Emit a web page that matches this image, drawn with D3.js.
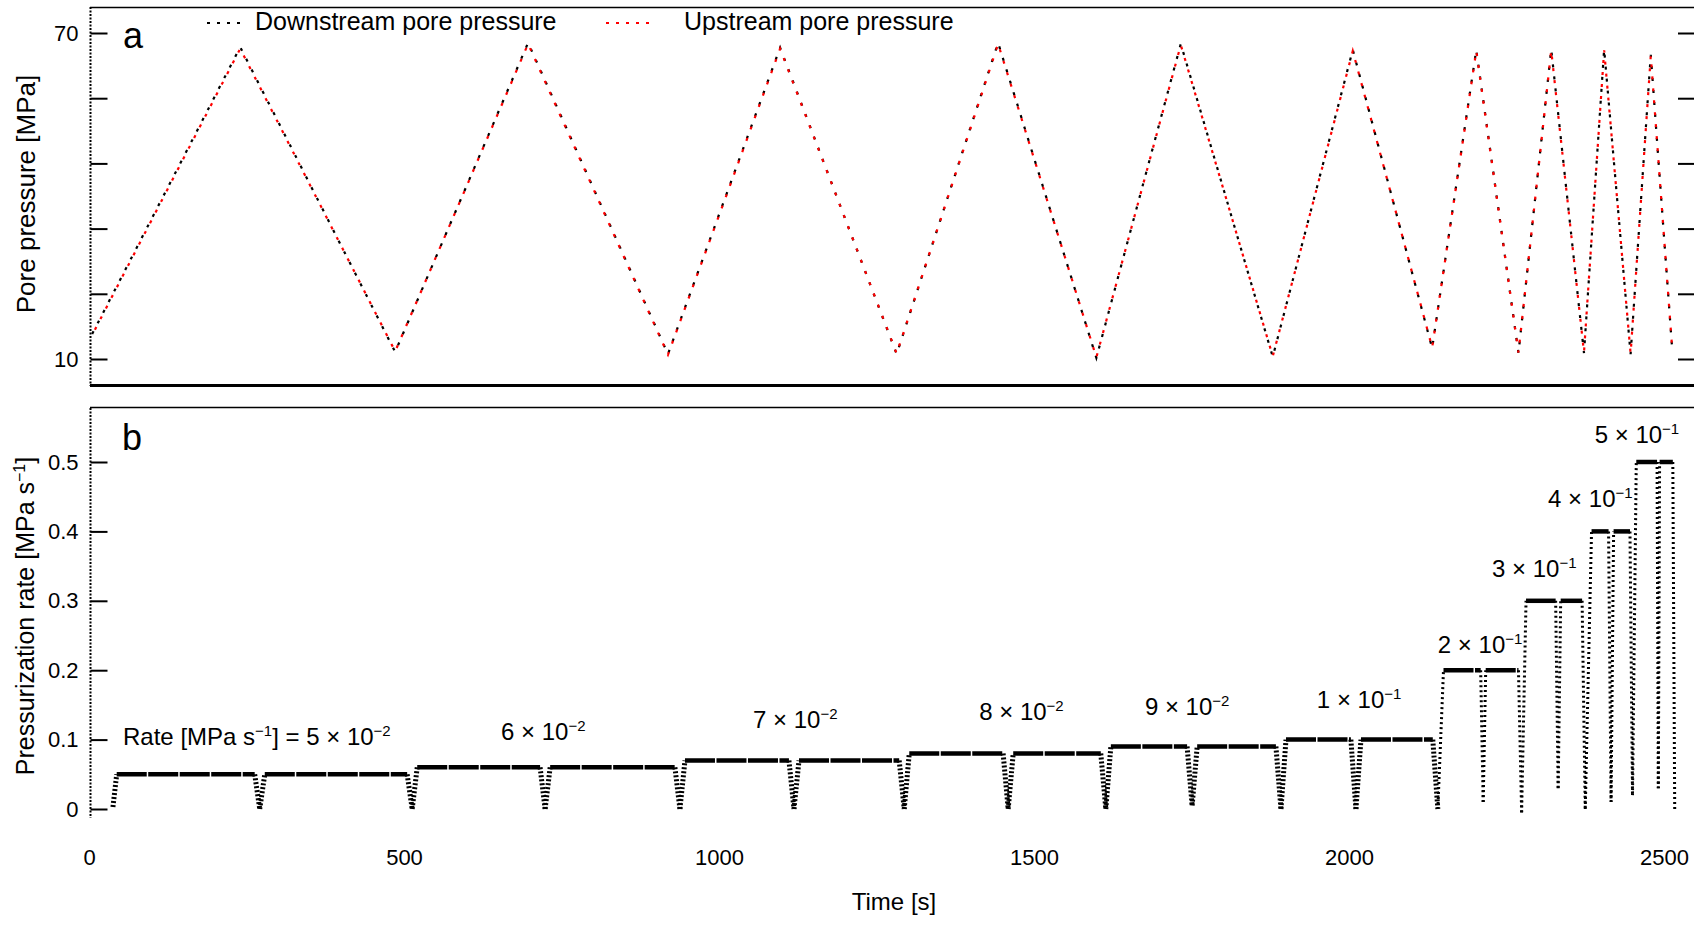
<!DOCTYPE html>
<html><head><meta charset="utf-8">
<script src="https://cdn.jsdelivr.net/npm/d3@7"></script>
<style>
html,body{margin:0;padding:0;background:#fff;}
svg{display:block;}
text{font-family:"Liberation Sans", Arial, sans-serif;fill:#000;}
</style></head><body>
<svg id="chart" width="1694" height="928"></svg>
<script>
// ---------------- data ----------------
const pressureTime = [5, 240, 486, 697, 919, 1097, 1282, 1443, 1599, 1733, 1879, 2006, 2132, 2202, 2269, 2321, 2373, 2405, 2447, 2479, 2513];
const downstreamPressure = [14.6, 67.4, 11.3, 68.2, 10.9, 67.3, 10.9, 68.2, 10.2, 68.0, 10.4, 66.9, 12.0, 66.9, 11.1, 67.0, 11.1, 67.0, 10.9, 66.0, 11.8];
const upstreamPressure   = [14.4, 67.1, 11.4, 68.0, 10.8, 67.1, 11.0, 68.0, 10.3, 67.8, 10.5, 66.7, 12.1, 66.7, 11.2, 66.8, 11.2, 66.8, 11.0, 65.8, 11.9];

const rateTime = [38, 44, 263, 271, 279, 505, 513,
  521, 716, 724, 732, 930, 938,
  946, 1111, 1119, 1127, 1286, 1294,
  1302, 1451, 1459, 1467, 1606, 1614,
  1622, 1743, 1751, 1759, 1884, 1892,
  1900, 2003, 2011, 2019, 2133, 2141,
  2150, 2209, 2213, 2217, 2269, 2274,
  2281, 2328, 2332, 2336, 2370, 2375,
  2385, 2412, 2416, 2420, 2446, 2450,
  2456, 2489, 2491, 2493, 2514, 2517];
const rateValue = [0.003, 0.05, 0.05, 0.0, 0.05, 0.05, 0.0,
  0.06, 0.06, 0.0, 0.06, 0.06, 0.0,
  0.07, 0.07, 0.0, 0.07, 0.07, 0.0,
  0.08, 0.08, 0.0, 0.08, 0.08, 0.0,
  0.09, 0.09, 0.005, 0.09, 0.09, 0.0,
  0.10, 0.10, 0.0, 0.10, 0.10, 0.0,
  0.20, 0.20, 0.01, 0.20, 0.20, -0.005,
  0.30, 0.30, 0.03, 0.30, 0.30, 0.0,
  0.40, 0.40, 0.01, 0.40, 0.40, 0.02,
  0.50, 0.50, 0.03, 0.50, 0.50, 0.0];

const rateMantissa = ["5", "6", "7", "8", "9", "1", "2", "3", "4", "5"];
const rateExponent = ["−2", "−2", "−2", "−2", "−2", "−1", "−1", "−1", "−1", "−1"];

const pressureTicks = [70, 58, 46, 34, 22, 10];
const pressureTickLabels = ["70", "", "", "", "", "10"];
const rateTicks = [0, 0.1, 0.2, 0.3, 0.4, 0.5];
const rateTickLabels = ["0", "0.1", "0.2", "0.3", "0.4", "0.5"];
const timeTicks = [0, 500, 1000, 1500, 2000, 2500];

// ---------------- layout ----------------
const annotationAt = [[54,0.092],[654,0.099],[1054,0.117],[1413,0.128],[1676,0.135],[1949,0.146],[2141,0.225],[2227,0.334],[2316,0.435],[2390,0.527]];

const svg = d3.select('#chart');
const x = d3.scaleLinear().domain([0, 2500]).range([89, 1664]);
const yA = d3.scaleLinear().domain([10, 70]).range([359, 33]);
const yB = d3.scaleLinear().domain([0, 0.5]).range([809, 462]);

const axisX = 90.5, rightEdge = 1694;

// frame lines
svg.append('line').attr('x1', 90).attr('x2', rightEdge).attr('y1', 7.5).attr('y2', 7.5).attr('stroke', '#000').attr('stroke-width', 1.5);
svg.append('line').attr('x1', 90).attr('x2', rightEdge).attr('y1', 385.5).attr('y2', 385.5).attr('stroke', '#000').attr('stroke-width', 3);
svg.append('line').attr('x1', 90).attr('x2', rightEdge).attr('y1', 407.5).attr('y2', 407.5).attr('stroke', '#000').attr('stroke-width', 1.5);
// dotted left axes
svg.append('line').attr('x1', axisX).attr('x2', axisX).attr('y1', 7).attr('y2', 386).attr('stroke', '#000').attr('stroke-width', 2).attr('stroke-dasharray', '2,1.5');
svg.append('line').attr('x1', axisX).attr('x2', axisX).attr('y1', 408).attr('y2', 818).attr('stroke', '#000').attr('stroke-width', 2).attr('stroke-dasharray', '2,1.5');

function styleAxis(g, fs) {
  g.select('.domain').remove();
  g.selectAll('.tick line').attr('stroke', '#000').attr('stroke-width', 2);
  g.selectAll('.tick text').attr('font-size', fs).attr('font-family', '"Liberation Sans", Arial, sans-serif').attr('fill', '#000');
}

// panel a axes
const gA = svg.append('g').attr('transform', `translate(${axisX},0)`)
  .call(d3.axisLeft(yA).tickValues(pressureTicks).tickSize(-17).tickPadding(12)
    .tickFormat((d, i) => pressureTickLabels[i]));
styleAxis(gA, 22);
const gAR = svg.append('g').attr('transform', `translate(${rightEdge},0)`)
  .call(d3.axisRight(yA).tickValues(pressureTicks).tickSize(-16).tickFormat(() => ''));
styleAxis(gAR, 22);

// panel b axes
const gB = svg.append('g').attr('transform', `translate(${axisX},0)`)
  .call(d3.axisLeft(yB).tickValues(rateTicks).tickSize(-17).tickPadding(12)
    .tickFormat((d, i) => rateTickLabels[i]));
styleAxis(gB, 22);
const gX = svg.append('g').attr('transform', 'translate(0,840)')
  .call(d3.axisBottom(x).tickValues(timeTicks).tickSize(0).tickPadding(9).tickFormat(d3.format('d')));
styleAxis(gX, 22);

// panel a series (dotted lines)
const lineA = d3.line().x(d => x(d[0])).y(d => yA(d[1]));
svg.append('path').datum(pressureTime.map((t, i) => [t, downstreamPressure[i]]))
  .attr('d', lineA).attr('fill', 'none').attr('stroke', '#000').attr('stroke-width', 2.2)
  .attr('stroke-dasharray', '3,9');
svg.append('path').datum(pressureTime.map((t, i) => [t, upstreamPressure[i]]))
  .attr('d', lineA).attr('fill', 'none').attr('stroke', '#ff0000').attr('stroke-width', 2.2)
  .attr('stroke-dasharray', '3,9').attr('stroke-dashoffset', 6);

// legend
svg.append('line').attr('x1', 207).attr('x2', 241).attr('y1', 23).attr('y2', 23).attr('stroke', '#000').attr('stroke-width', 2).attr('stroke-dasharray', '3,7');
svg.append('text').attr('x', 255).attr('y', 30).attr('font-size', 25).text('Downstream pore pressure');
svg.append('line').attr('x1', 606).attr('x2', 650).attr('y1', 23).attr('y2', 23).attr('stroke', '#ff0000').attr('stroke-width', 2).attr('stroke-dasharray', '3,7');
svg.append('text').attr('x', 684).attr('y', 30).attr('font-size', 25).text('Upstream pore pressure');

// panel labels
svg.append('text').attr('x', 123).attr('y', 48).attr('font-size', 36).text('a');
svg.append('text').attr('x', 122).attr('y', 450).attr('font-size', 36).text('b');

// panel b series
const ratePts = rateTime.map((t, i) => [t, rateValue[i]]);
const lineB = d3.line().x(d => x(d[0])).y(d => yB(d[1]));
d3.pairs(ratePts).forEach(([a, b]) => {
  const dxp = Math.abs(x(b[0]) - x(a[0])), dyp = Math.abs(yB(b[1]) - yB(a[1]));
  const steep = dyp > dxp;
  const longCol = steep && dyp > 120;
  svg.append('path').attr('d', lineB([a, b])).attr('fill', 'none').attr('stroke', '#000')
    .attr('stroke-width', steep ? (longCol ? 3 : 5) : 4.5)
    .attr('stroke-dasharray', steep ? (longCol ? '2,3' : '2,2') : '30,1.5');
});

// annotations
rateMantissa.forEach((m, i) => {
  const [t, v] = annotationAt[i];
  const txt = svg.append('text').attr('x', x(t)).attr('y', yB(v)).attr('font-size', 24);
  if (i === 0) {
    txt.append('tspan').text('Rate [MPa s');
    txt.append('tspan').attr('font-size', 15).attr('dy', -9).text('−1');
    txt.append('tspan').attr('dy', 9).text('] = ');
  }
  txt.append('tspan').text(m + ' × 10');
  txt.append('tspan').attr('font-size', 15).attr('dy', -9).text(rateExponent[i]);
});

// axis titles
svg.append('text').attr('transform', 'translate(35,194) rotate(-90)').attr('text-anchor', 'middle').attr('font-size', 26).text('Pore pressure [MPa]');
const tB = svg.append('text').attr('transform', 'translate(34,616) rotate(-90)').attr('text-anchor', 'middle').attr('font-size', 25);
tB.append('tspan').text('Pressurization rate [MPa s');
tB.append('tspan').attr('font-size', 16).attr('dy', -9).text('−1');
tB.append('tspan').attr('dy', 9).text(']');
svg.append('text').attr('x', 894).attr('y', 910).attr('text-anchor', 'middle').attr('font-size', 24).text('Time [s]');
</script>
</body></html>
